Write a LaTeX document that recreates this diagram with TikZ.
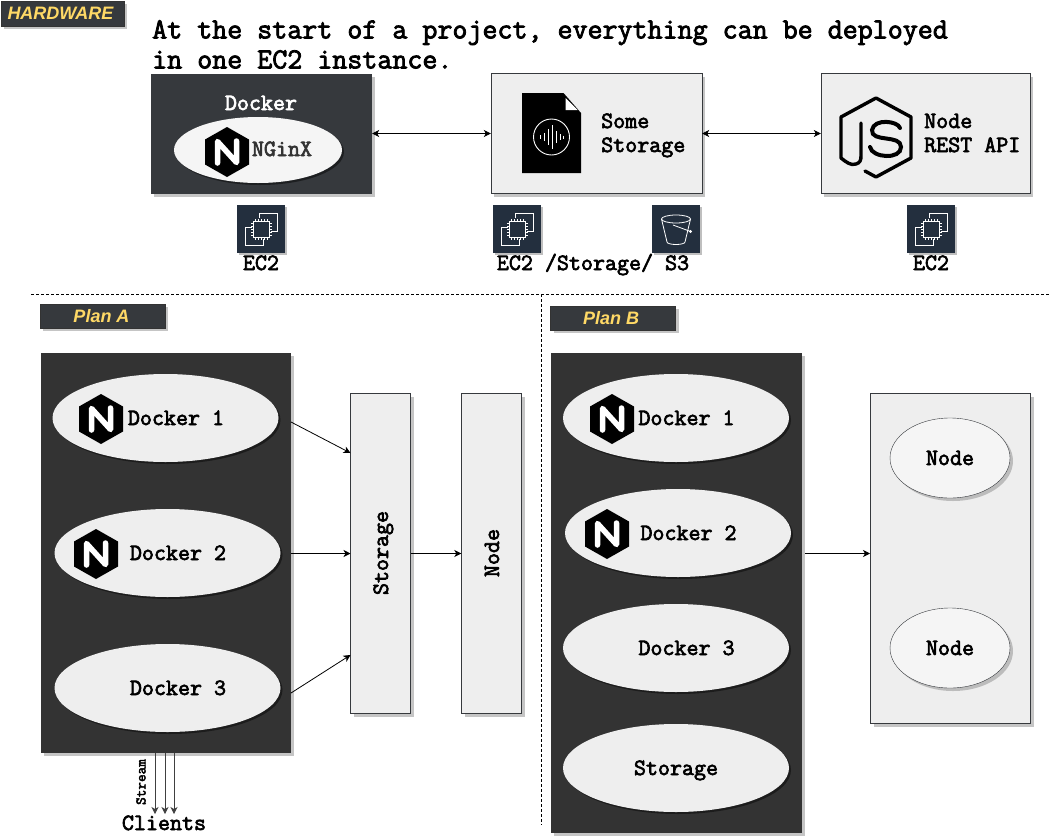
\documentclass[tikz,border=0pt]{standalone}
\usepackage{fontspec}
\newfontfamily\tagfont{Liberation Sans}
\newfontfamily\courier[FakeBold=2.8]{Latin Modern Mono}
\usetikzlibrary{arrows.meta,shadows,shapes.geometric}
\definecolor{panel}{HTML}{333333}
\definecolor{slate}{HTML}{36393D}
\definecolor{tagyellow}{HTML}{FFD966}
\definecolor{awsblue}{HTML}{232F3E}
\definecolor{pale}{HTML}{EEEEEE}
\tikzset{softshadow/.style = {drop shadow={shadow xshift=3pt,shadow yshift=-3pt,fill=black!45,opacity=.5}}}
\tikzset{darkshadow/.style = {drop shadow={shadow xshift=2pt,shadow yshift=-2pt,fill=black,opacity=.45}}}
\tikzset{mono/.style = {font=\courier\fontsize{23.33}{24}\selectfont,inner sep=0pt,text height=17pt,text depth=3pt}}
\tikzset{tagbox/.style = {shape=rectangle,draw=black!80,fill=slate,text=tagyellow,inner sep=0pt,softshadow}}
\tikzset{box/.style = {shape=rectangle,draw=slate,fill=pale,inner sep=0pt,softshadow}}
\tikzset{darkbox/.style = {shape=rectangle,fill=panel,inner sep=0pt,softshadow}}
\tikzset{bubble/.style = {shape=ellipse,fill=pale,inner sep=0pt,darkshadow,mono,minimum width=226,minimum height=88}}
\tikzset{nodebubble/.style = {shape=ellipse,draw=slate,fill=black!4,inner sep=0pt,softshadow,mono,minimum width=120,minimum height=80}}
\tikzset{edge/.style = {->,> = {Stealth[length=7pt,width=7pt,inset=2pt]},line width=.8pt}}
\tikzset{dashline/.style = {densely dashed,line width=.6pt}}
\tikzset{nginxlogo/.pic = {
  \fill[black] (0,-25) -- (22,-12.5) -- (22,12.5) -- (0,25) -- (-22,12.5) -- (-22,-12.5) -- cycle;
  \draw[white,line width=5.5pt,line join=round,line cap=round] (-9.5,11) -- (-9.5,-10.5) -- (9.5,10.5) -- (9.5,-11);
}}
\tikzset{ec2icon/.pic = {
  \fill[black!25] (-22,-22) rectangle (26,26);
  \fill[awsblue] (-24,-24) rectangle (24,24);
  \draw[white,line width=.7pt] (-2,-11) -- (-2,-16) -- (16,-16) -- (16,2) -- (10,2);
  \draw[white,line width=.7pt] (-9,-2) -- (-16,-2) -- (-16,16) -- (2,16) -- (2,10);
  \draw[white,line width=1pt,fill=awsblue] (-8,-8) rectangle (8,8);
  \foreach \t in {-6,-3,0,3,6}{
    \draw[white,line width=.6pt] (\t,-8) -- (\t,-10.5) (\t,8) -- (\t,10.5) (-8,\t) -- (-10.5,\t) (8,\t) -- (10.5,\t);
  }
}}
\tikzset{s3icon/.pic = {
  \fill[black!25] (-22,-22) rectangle (26,26);
  \fill[awsblue] (-24,-24) rectangle (24,24);
  \draw[white,line width=.8pt] (0,-10) ellipse (14.5 and 4);
  \draw[white,line width=.8pt] (-14.5,-10) -- (-9,13) arc (180:0:9 and 2.5) -- (14.5,-10);
  \draw[white,line width=.8pt] (-3,-4) -- (14.5,2.5);
  \fill[white] (14.5,2.5) circle (1.6);
}}
\tikzset{filelogo/.pic = {
  \fill[black] (-29.5,-44) -- (12,-44) -- (29.5,-24) -- (29.5,36) -- (-29.5,36) -- cycle;
  \fill[white] (14,-39) -- (26,-27) -- (14,-27) -- cycle;
  \draw[white,line width=.9pt] (0,0) circle (18);
  \foreach \x/\h in {-11/2,-7/4,-3/8,1/12,5/6,9/3,12/1.5}{
    \draw[white,line width=.9pt] (\x,-\h) -- (\x,\h);
  }
}}
\tikzset{jslogo/.pic = {
  \draw[black,line width=3.4pt,line join=round,line cap=round] (-11,33) -- (0,39) -- (35,20) -- (35,-21) -- (0,-40) -- (-35,-21) -- (-35,20)
    .. controls (-30,24) and (-25,28) .. (-20,26) .. controls (-16,25) and (-15,22) .. (-15,18) -- (-15,-15);
  \draw[black,line width=4pt,line cap=round] (24,-10) .. controls (22,-17) and (-2,-20) .. (-4,-8) .. controls (-5,5) and (25,-4) .. (25,9) .. controls (25,22) and (-4,20) .. (-6,9);
}}

\begin{document}
\begin{tikzpicture}[x=1pt,y=-1pt]
\useasboundingbox (0,0) rectangle (1057,838);

\node[tagbox,minimum width=123,minimum height=25] (hardware) at (62.5,13.5) {\tagfont\fontsize{18}{20}\selectfont\bfseries\itshape HARDWARE\hspace*{4pt}};
\node[anchor=north west,align=left,inner sep=0pt,font=\courier\fontsize{29.15}{30}\selectfont] (intro) at (152,20) {At the start of a project, everything can be deployed\\in one EC2 instance.};

% top row
\node[darkbox,fill=slate,minimum width=221,minimum height=120] (hwdocker) at (261.5,133.5) {};
\node[mono,text=white] (dockertitle) at (261,103) {Docker};
\node[shape=ellipse,fill=black!4,inner sep=0pt,darkshadow,minimum width=168,minimum height=66] (nginxbubble) at (258,150) {};
\pic at (227,152) {nginxlogo};
\node[mono,text=panel] (nginxtitle) at (282,149) {NGinX};

\node[box,minimum width=211,minimum height=120] (hwstorage) at (596.5,133.5) {};
\pic at (551.5,137) {filelogo};
\node[mono,anchor=west] (sometitle) at (601,121) {Some};
\node[mono,anchor=west] (storagetitle) at (601,145) {Storage};

\node[box,minimum width=209,minimum height=120] (hwnode) at (925.5,133.5) {};
\pic at (876,138) {jslogo};
\node[mono,anchor=west] (nodetitle) at (924,121) {Node};
\node[mono,anchor=west] (resttitle) at (924,145) {REST API};

\draw[edge,<->] (hwdocker) -- (hwstorage);
\draw[edge,<->] (hwstorage) -- (hwnode);

\pic at (261,229) {ec2icon};
\pic at (517,229) {ec2icon};
\pic at (676,229) {s3icon};
\pic at (931,229) {ec2icon};
\node[mono] (ectwoA) at (261,263) {EC2};
\node[mono] (ectwoB) at (593,263) {EC2 /Storage/  S3};
\node[mono] (ectwoC) at (931,263) {EC2};

\coordinate (ruleL) at (31,294);
\coordinate (ruleR) at (1050,294);
\coordinate (ruleT) at (541,294);
\coordinate (ruleB) at (541,825);
\draw[dashline] (ruleL) -- (ruleR);
\draw[dashline] (ruleT) -- (ruleB);

% plan a
\node[tagbox,minimum width=125,minimum height=24] (planA) at (102.5,316) {\tagfont\fontsize{18}{20}\selectfont\bfseries\itshape Plan A\hspace*{2pt}};
\node[darkbox,minimum width=250,minimum height=400] (panelA) at (166,553) {};
\node[bubble] (dockerA1) at (165.5,418) {\hspace*{21pt}Docker 1};
\node[bubble] (dockerA2) at (167.5,553) {\hspace*{21pt}Docker 2};
\node[bubble] (dockerA3) at (167.5,688) {\hspace*{21pt}Docker 3};
\pic at (101,419) {nginxlogo};
\pic at (96,554) {nginxlogo};

\node[box,minimum width=60,minimum height=320] (storageA) at (380.5,553.5) {};
\node[box,minimum width=60,minimum height=320] (nodeA) at (491.5,553.5) {};
\node[mono,rotate=90] (storageAtext) at (381,553) {Storage};
\node[mono,rotate=90] (nodeAtext) at (492,553) {Node};

\coordinate (fromA1) at (291,422);
\coordinate (fromA2) at (291,553.5);
\coordinate (fromA3) at (291,693);
\coordinate (toA1) at (350.5,453);
\coordinate (toA2) at (350.5,553.5);
\coordinate (toA3) at (350.5,655);
\draw[edge] (fromA1) -- (toA1);
\draw[edge] (fromA2) -- (toA2);
\draw[edge] (fromA3) -- (toA3);
\draw[edge] (storageA) -- (nodeA);

\foreach \n/\x in {a/155,b/165,c/174}{
  \coordinate (out\n) at (\x,753);
  \coordinate (in\n) at (\x,814);
  \draw[edge,line width=1pt,black!75] (out\n) -- (in\n);
}
\node[font=\courier\fontsize{14.8}{16}\selectfont,inner sep=0pt,rotate=90] (stream) at (141,782) {Stream};
\node[mono] (clients) at (164,823) {Clients};

% plan b
\node[tagbox,minimum width=125,minimum height=24] (planB) at (613,318) {\tagfont\fontsize{18}{20}\selectfont\bfseries\itshape Plan B\hspace*{4pt}};
\node[darkbox,minimum width=251,minimum height=480] (panelB) at (676.5,593) {};
\node[bubble] (dockerB1) at (676,418) {\hspace*{21pt}Docker 1};
\node[bubble] (dockerB2) at (678,533) {\hspace*{21pt}Docker 2};
\node[bubble] (dockerB3) at (676,648) {\hspace*{21pt}Docker 3};
\node[bubble] (dockerB4) at (676,768) {Storage};
\pic at (612,419) {nginxlogo};
\pic at (607,534) {nginxlogo};

\node[box,minimum width=160,minimum height=330] (clusterB) at (950.5,558.5) {};
\node[nodebubble] (nodeB1) at (950,458) {Node};
\node[nodebubble] (nodeB2) at (950,648) {Node};

\coordinate (fromB) at (805,553.5);
\coordinate (toB) at (870,553.5);
\draw[edge] (fromB) -- (toB);

\end{tikzpicture}
\end{document}
